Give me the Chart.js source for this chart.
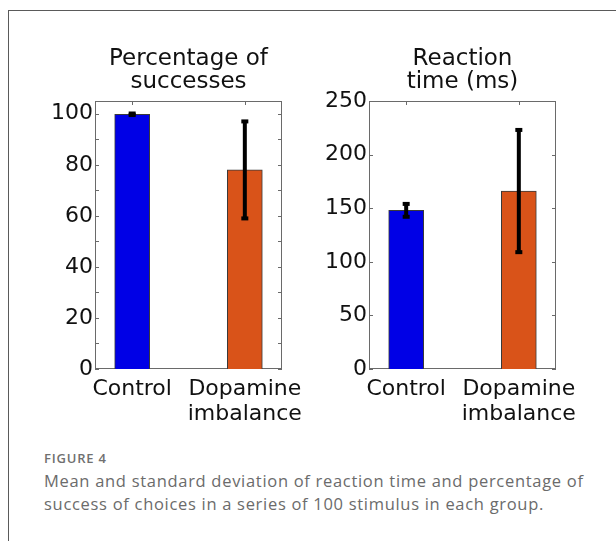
<!DOCTYPE html>
<html>
<head>
<meta charset="utf-8">
<script src="https://cdn.jsdelivr.net/npm/chart.js@4"></script>
<style>
  html, body { margin:0; padding:0; background:#fff; width:616px; height:541px; overflow:hidden; }
  #frame { position:absolute; left:8px; top:10px; width:720px; height:620px; border-left:1.5px solid #5a5a5a; border-top:1.5px solid #5a5a5a; }
  .cv { position:absolute; }
  #c1 { left:40px; top:40px; }
  #c2 { left:310px; top:40px; }
  .cap { position:absolute; left:44px; font-family:'Open Sans', sans-serif; color:#6b6b6b; white-space:nowrap; }
  #figlab { top:450px; font-size:13px; line-height:16px; font-weight:600; color:#707070; letter-spacing:0.8px; }
  #l1 { top:469px; font-size:16.5px; line-height:23px; letter-spacing:0.7px; }
  #l2 { top:492px; font-size:16.5px; line-height:23px; letter-spacing:0.7px; }
</style>
</head>
<body>
<div id="frame"></div>
<canvas id="c1" class="cv" width="270" height="400"></canvas>
<canvas id="c2" class="cv" width="306" height="400"></canvas>
<div id="figlab" class="cap">FIGURE 4</div>
<div id="l1" class="cap">Mean and standard deviation of reaction time and percentage of</div>
<div id="l2" class="cap">success of choices in a series of 100 stimulus in each group.</div>
<script>
// ---- data ----
const categories = ['Control', ['Dopamine', 'imbalance']];
const groupPositions = [1, 2];
const successMean = [99.8, 78];
const successSd = [0.3, 19];
const reactionMean = [148, 166];
const reactionSd = [6, 57];
const successTitle = ['Percentage of', 'successes'];
const reactionTitle = ['Reaction', 'time (ms)'];
const successTicks = [0, 10, 20, 30, 40, 50, 60, 70, 80, 90, 100];
const successTickLabels = ['0', '', '20', '', '40', '', '60', '', '80', '', '100'];
const reactionTicks = [0, 50, 100, 150, 200, 250];
const reactionTickLabels = ['0', '50', '100', '150', '200', '250'];
const barColors = ['#0000e6', '#d95319'];

const FONT = 'DejaVu Sans';

const framePlugin = {
  id: 'frame',
  beforeDatasetsDraw(chart, args, opts) {
    const { ctx, chartArea: a, scales: { x, y } } = chart;
    ctx.save();
    ctx.strokeStyle = '#6a6a6a';
    ctx.lineWidth = 1;
    ctx.strokeRect(Math.round(a.left) + 0.5, Math.round(a.top) + 0.5, Math.round(a.width) - 1, Math.round(a.height) - 1);
    ctx.beginPath();
    y.ticks.forEach(t => {
      const py = Math.round(y.getPixelForValue(t.value)) + 0.5;
      ctx.moveTo(a.left, py); ctx.lineTo(a.left + 4, py);
      ctx.moveTo(a.right, py); ctx.lineTo(a.right - 4, py);
    });
    x.ticks.forEach(t => {
      const px = Math.round(x.getPixelForValue(t.value)) + 0.5;
      ctx.moveTo(px, a.bottom); ctx.lineTo(px, a.bottom - 4);
      ctx.moveTo(px, a.top); ctx.lineTo(px, a.top + 4);
    });
    ctx.stroke();
    ctx.restore();
  },
  afterDatasetsDraw(chart, args, opts) {
    const { ctx, scales: { x, y } } = chart;
    ctx.save();
    ctx.strokeStyle = '#000';
    ctx.fillStyle = '#000';
    opts.means.forEach((m, i) => {
      const px = x.getPixelForValue(groupPositions[i]);
      const top = y.getPixelForValue(m + opts.sds[i]);
      const bot = y.getPixelForValue(m - opts.sds[i]);
      ctx.lineWidth = 4;
      ctx.beginPath();
      ctx.moveTo(px, top); ctx.lineTo(px, bot);
      ctx.stroke();
      ctx.fillRect(px - 3.5, top - 2, 7, 4);
      ctx.fillRect(px - 3.5, bot - 2, 7, 4);
    });
    ctx.restore();
  }
};

function makeChart(id, means, sds, title, yMax, tickVals, tickLabels, padRight, yWidth) {
  return new Chart(document.getElementById(id), {
    type: 'bar',
    data: {
      datasets: [{
        data: means.map((v, i) => ({ x: groupPositions[i], y: v })),
        backgroundColor: barColors,
        borderColor: '#3a3a3a',
        borderWidth: 1,
        barThickness: 35
      }]
    },
    options: {
      responsive: false,
      animation: false,
      devicePixelRatio: 1,
      layout: { padding: { left: 0, right: padRight, top: 0, bottom: 0 } },
      plugins: {
        legend: { display: false },
        tooltip: { enabled: false },
        title: {
          display: true,
          fullSize: false,
          text: title,
          color: '#111',
          font: { family: FONT, size: 23, weight: 'normal', lineHeight: 1.013 },
          padding: { top: 7, bottom: 7.4 }
        },
        frame: { means: means, sds: sds }
      },
      scales: {
        x: {
          type: 'linear',
          offset: false,
          min: 0.67,
          max: 2.33,
          grid: { display: false, drawTicks: false, offset: false },
          border: { display: false },
          afterBuildTicks: s => { s.ticks = groupPositions.map(v => ({ value: v })); },
          afterFit: s => { s.height = 71; s.paddingLeft = 0; s.paddingRight = 0; },
          ticks: {
            autoSkip: false,
            maxRotation: 0,
            padding: 8,
            color: '#111',
            font: { family: FONT, size: 22, lineHeight: 1.14 },
            callback: (v, i) => categories[i]
          }
        },
        y: {
          min: 0,
          max: yMax,
          grid: { display: false, drawTicks: false },
          border: { display: false },
          afterBuildTicks: s => { s.ticks = tickVals.map(v => ({ value: v })); },
          afterFit: s => { s.width = yWidth; s.paddingTop = 0; s.paddingBottom = 0; },
          ticks: {
            autoSkip: false,
            padding: 2,
            color: '#111',
            font: { family: FONT, size: 22 },
            callback: (v, i) => tickLabels[i]
          }
        }
      }
    },
    plugins: [framePlugin]
  });
}

makeChart('c1', successMean, successSd, successTitle, 105, successTicks, successTickLabels, 28, 55);
makeChart('c2', reactionMean, reactionSd, reactionTitle, 250, reactionTicks, reactionTickLabels, 60, 59);
</script>
</body>
</html>
